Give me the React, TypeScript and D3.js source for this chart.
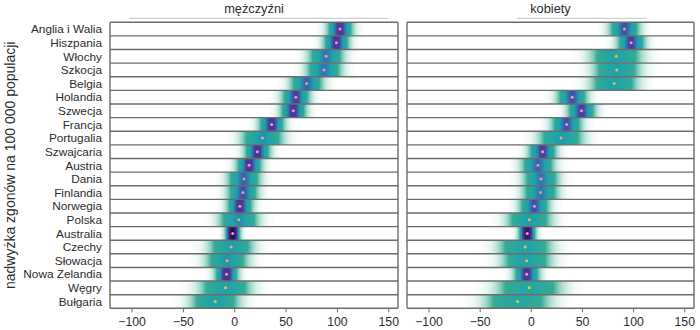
import React from "react";
import * as d3 from "d3";

// kraje od góry do dołu
const countries = [
  "Anglia i Walia", "Hiszpania", "Włochy", "Szkocja", "Belgia", "Holandia",
  "Szwecja", "Francja", "Portugalia", "Szwajcaria", "Austria", "Dania",
  "Finlandia", "Norwegia", "Polska", "Australia", "Czechy", "Słowacja",
  "Nowa Zelandia", "Węgry", "Bułgaria",
];

// mężczyźni: środek i rozrzut rozkładu
const menMean = [102.5, 99, 89, 87, 70, 59.5, 57, 36, 27, 22, 14, 9, 8, 5, 4, -2, -3.5, -7.5, -8, -9, -19];
const menSd = [6.5, 6.5, 8.5, 8.5, 8, 7, 6.5, 6.5, 10, 6.5, 6.5, 8, 7.5, 6.5, 9.5, 4, 10.5, 10, 6, 12, 11.5];

// kobiety
const womenMean = [91, 97.5, 83, 83.5, 81, 40, 49, 34.5, 29, 11, 6.5, 9.5, 9, 3, -2, -4, -6, -4.5, -4.5, -2, -13.5];
const womenSd = [7.5, 7, 12, 11, 11, 7.5, 7, 7.5, 10.5, 7, 8, 8.5, 8.5, 7.5, 10.5, 4.5, 12.5, 11.5, 6.5, 15, 15];

const xTicks = [-100, -50, 0, 50, 100, 150];
const yTitle = "nadwyżka zgonów na 100 000 populacji";

const W = 700;
const H = 330;
const top = 22.3;
const bottom = 308.3;
const font = "'Liberation Sans', Arial, sans-serif";
const textColor = "#2b2b2b";
const lineColor = "#6c6c6c";

const panels = [
  { key: "m", title: "mężczyźni", x0: 110, x1: 398, mean: menMean, sd: menSd, rule: [0.066, 0.965] },
  { key: "k", title: "kobiety", x0: 407, x1: 694, mean: womenMean, sd: womenSd, rule: [0.383, 0.836] },
];

const y = d3.scaleBand<string>().domain(countries).range([top, bottom]).padding(0);

// kolor wg gęstości
const densColor = d3
  .scaleLinear<string>()
  .domain([0, 0.036, 0.046, 0.056, 0.1])
  .range(["#3cae8c", "#1ea2aa", "#2c7ab8", "#4b3d9e", "#2a0a48"])
  .clamp(true);

const dotColor = d3
  .scaleLinear<string>()
  .domain([0.03, 0.045, 0.06])
  .range(["#dccf3e", "#f3a45a", "#ef9cc2"])
  .clamp(true);

const pdf = (v: number, m: number, s: number) =>
  Math.exp(-0.5 * ((v - m) / s) ** 2) / (s * Math.sqrt(2 * Math.PI));

const Panel = ({ p }: { p: (typeof panels)[number] }) => {
  const x = d3.scaleLinear().domain([-121.5, 159]).range([p.x0, p.x1]);
  const fmt = d3.format("d");
  const n = 90;
  const k3 = 3.6;
  const bw = y.bandwidth();
  const cx = (p.x0 + p.x1) / 2;
  return (
    <g>
      <defs>
        <clipPath id={`clip-${p.key}`}>
          <rect x={p.x0} y={top} width={p.x1 - p.x0} height={bottom - top} />
        </clipPath>
        {countries.map((c, i) => {
          const m = p.mean[i];
          const s = p.sd[i];
          const peak = pdf(m, m, s);
          const lo = m - k3 * s;
          const hi = m + k3 * s;
          return (
            <linearGradient
              key={c}
              id={`g-${p.key}-${i}`}
              gradientUnits="userSpaceOnUse"
              x1={x(lo)}
              x2={x(hi)}
              y1={0}
              y2={0}
            >
              {d3.range(n + 1).map((k) => {
                const v = lo + ((hi - lo) * k) / n;
                const d = pdf(v, m, s);
                const a = Math.min(1, Math.pow(d / peak / 0.3, 0.8));
                return <stop key={k} offset={k / n} stopColor={densColor(d)} stopOpacity={a} />;
              })}
            </linearGradient>
          );
        })}
      </defs>

      <text x={cx} y={13} textAnchor="middle" fontSize={12.8} fill={textColor} fontFamily={font}>
        {p.title}
      </text>
      <line
        x1={p.x0 + (p.x1 - p.x0) * p.rule[0]}
        x2={p.x0 + (p.x1 - p.x0) * p.rule[1]}
        y1={18.3}
        y2={18.3}
        stroke="#c4c4c4"
        strokeWidth={1}
      />

      <g clipPath={`url(#clip-${p.key})`}>
        {countries.map((c, i) => {
          const m = p.mean[i];
          const s = p.sd[i];
          return (
            <rect
              key={c}
              x={x(m - k3 * s)}
              width={x(m + k3 * s) - x(m - k3 * s)}
              y={y(c)}
              height={bw}
              fill={`url(#g-${p.key}-${i})`}
            />
          );
        })}
      </g>

      {d3.range(countries.length + 1).map((i) => (
        <line
          key={i}
          x1={p.x0}
          x2={p.x1}
          y1={top + i * bw}
          y2={top + i * bw}
          stroke={lineColor}
          strokeWidth={1.4}
        />
      ))}
      <line x1={p.x0} x2={p.x0} y1={top} y2={bottom} stroke={lineColor} strokeWidth={1.4} />
      <line x1={p.x1} x2={p.x1} y1={top} y2={bottom} stroke={lineColor} strokeWidth={1.4} />

      {countries.map((c, i) => (
        <circle
          key={c}
          cx={x(p.mean[i])}
          cy={(y(c) ?? 0) + bw / 2}
          r={1.5}
          fill={dotColor(pdf(p.mean[i], p.mean[i], p.sd[i]))}
        />
      ))}

      {xTicks.map((t) => (
        <g key={t} transform={`translate(${x(t)},${bottom})`}>
          <line y1={0} y2={4} stroke={lineColor} strokeWidth={1} />
          <text y={17.5} textAnchor="middle" fontSize={12.3} fill={textColor} fontFamily={font}>
            {fmt(t)}
          </text>
        </g>
      ))}
    </g>
  );
};

export default function App() {
  return (
    <svg
      width={W}
      height={H}
      style={{ position: "absolute", left: 0, top: 0, background: "#fff" }}
    >
      <rect width={W} height={H} fill="#fff" />
      {countries.map((c) => (
        <text
          key={c}
          x={102}
          y={(y(c) ?? 0) + y.bandwidth() / 2 + 4.2}
          textAnchor="end"
          fontSize={11.8}
          fill={textColor}
          fontFamily={font}
        >
          {c}
        </text>
      ))}
      <text
        transform={`translate(15,${(top + bottom) / 2}) rotate(-90)`}
        textAnchor="middle"
        fontSize={14}
        fill={textColor}
        fontFamily={font}
      >
        {yTitle}
      </text>
      {panels.map((p) => (
        <Panel key={p.key} p={p} />
      ))}
    </svg>
  );
}
